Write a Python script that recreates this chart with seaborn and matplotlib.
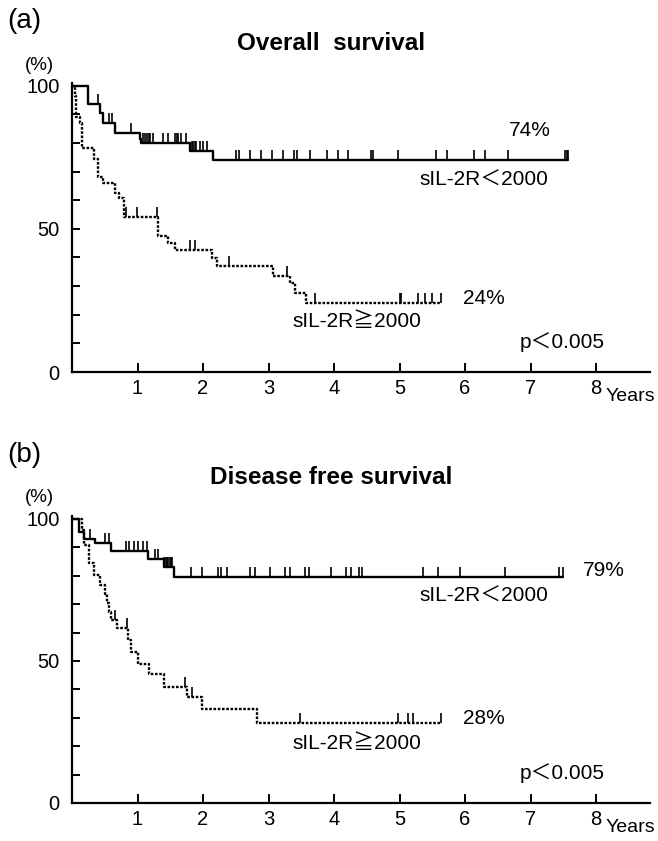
import numpy as np
import pandas as pd
import matplotlib
matplotlib.use("Agg")
import matplotlib.pyplot as plt
import seaborn as sns

# ---------------- DATA ----------------
# (a) Overall survival
os_low_times = [0.25, 0.42, 0.48, 0.65, 1.04, 1.06, 1.80, 2.15]
os_low_surv = [93.7, 90.6, 86.9, 83.4, 81.4, 79.9, 77.2, 74.0]
os_low_cens = [0.40, 0.57, 0.61, 0.90, 1.09, 1.11, 1.14, 1.17, 1.19, 1.24, 1.39, 1.46,
               1.57, 1.60, 1.62, 1.66, 1.74, 1.83, 1.85, 1.88, 1.90, 1.95, 2.00, 2.06,
               2.51, 2.55, 2.72, 2.88, 3.05, 3.22, 3.39, 3.43, 3.63, 3.89, 4.06, 4.22,
               4.56, 4.59, 4.98, 5.56, 5.72, 6.14, 6.31, 6.65, 7.53, 7.55, 7.58]

os_high_times = [0.04, 0.06, 0.12, 0.15, 0.33, 0.39, 0.48, 0.65, 0.72, 0.80, 1.32, 1.47,
                 1.57, 2.13, 2.21, 3.07, 3.33, 3.40, 3.57]
os_high_surv = [96.5, 89.2, 86.9, 78.1, 74.3, 68.2, 66.1, 62.6, 60.7, 54.2, 47.5, 44.9,
                42.6, 39.7, 37.0, 33.5, 31.0, 27.7, 24.2]
os_high_cens = [0.82, 0.99, 1.30, 1.80, 1.88, 2.40, 3.29, 3.71, 5.01, 5.03, 5.29, 5.39,
                5.49, 5.64]

# (b) Disease free survival
dfs_low_times = [0.10, 0.18, 0.35, 0.59, 1.16, 1.40, 1.55]
dfs_low_surv = [95.5, 92.8, 91.4, 88.7, 86.0, 83.2, 79.7]
dfs_low_cens = [0.27, 0.51, 0.57, 0.82, 0.87, 0.94, 1.01, 1.09, 1.14, 1.27, 1.32, 1.41,
                1.43, 1.45, 1.47, 1.49, 1.51, 1.53, 1.82, 1.99, 2.23, 2.28, 2.37, 2.72,
                2.80, 3.02, 3.25, 3.33, 3.56, 3.62, 3.96, 4.19, 4.26, 4.38, 4.43, 5.36,
                5.59, 5.92, 6.61, 7.43, 7.50]

dfs_high_times = [0.15, 0.19, 0.26, 0.33, 0.42, 0.50, 0.53, 0.56, 0.59, 0.68, 0.85, 0.90,
                  1.00, 1.17, 1.41, 1.76, 1.99, 2.82]
dfs_high_surv = [96.0, 90.8, 84.4, 80.3, 76.8, 73.5, 70.5, 67.4, 64.4, 61.5, 57.4, 53.3,
                 48.9, 45.3, 41.0, 37.4, 33.0, 28.3]
dfs_high_cens = [0.66, 0.84, 1.73, 1.83, 3.48, 4.98, 5.13, 5.21, 5.64]

x_ticks = [1, 2, 3, 4, 5, 6, 7, 8]
y_ticks_major = [0, 50, 100]
y_ticks_minor = [10, 20, 30, 40, 60, 70, 80, 90]

panel_letters = ["(a)", "(b)"]
panel_titles = ["Overall  survival", "Disease free survival"]
final_labels = [("74%", "24%"), ("79%", "28%")]
group_labels = ["sIL-2R\uff1c2000", "sIL-2R\u22672000"]
p_label = "p\uff1c0.005"

# ---------------- STYLE ----------------
sns.set_style("ticks")
plt.rcParams["font.family"] = ["Liberation Sans", "Noto Sans CJK JP", "DejaVu Sans"]
plt.rcParams["axes.linewidth"] = 1.6
for k in ["text.color", "axes.labelcolor", "xtick.color", "ytick.color", "axes.edgecolor"]:
    plt.rcParams[k] = "black"

W, H = 658, 841
fig = plt.figure(figsize=(W / 100, H / 100), dpi=100)


def ax_rect(left, right, top, bottom):
    return [left / W, 1 - bottom / H, (right - left) / W, (bottom - top) / H]


def ftext(x, y, s, **kw):
    fig.text(x / W, 1 - y / H, s, color="black", **kw)


XMAX = 8.82
YMAX = 101

panels = [
    dict(rect=ax_rect(72, 72 + XMAX * 65.5, 372 - YMAX * 2.863, 372),
         low=(os_low_times, os_low_surv, os_low_cens),
         high=(os_high_times, os_high_surv, os_high_cens)),
    dict(rect=ax_rect(72, 72 + XMAX * 65.5, 803 - YMAX * 2.84, 803),
         low=(dfs_low_times, dfs_low_surv, dfs_low_cens),
         high=(dfs_high_times, dfs_high_surv, dfs_high_cens)),
]


def km_curve(ax, times, surv, cens, ls):
    times = np.asarray(times)
    surv = np.asarray(surv)
    end = max(max(cens), times[-1])
    xs = np.concatenate([[0.0], times, [end]])
    ys = np.concatenate([[100.0], surv, [surv[-1]]])
    df = pd.DataFrame({"t": xs, "s": ys})
    sns.lineplot(data=df, x="t", y="s", drawstyle="steps-post", estimator=None,
                 sort=False, color="black", lw=1.7, linestyle=ls, ax=ax, legend=False)
    cens = np.asarray(cens)
    idx = np.searchsorted(times, cens, side="right") - 1
    cy = np.where(idx < 0, 100.0, surv[np.clip(idx, 0, None)])
    ax.plot(cens, cy, linestyle="none", marker=2, markersize=7.5, mew=1.2,
            color="black")


for p in panels:
    ax = fig.add_axes(p["rect"])
    km_curve(ax, *p["low"], ls="-")
    km_curve(ax, *p["high"], ls=(0, (1.1, 0.7)))
    ax.set_xlim(0, XMAX)
    ax.set_ylim(0, YMAX)
    sns.despine(ax=ax)
    ax.set_xticks(x_ticks)
    ax.set_xticklabels([str(v) for v in x_ticks], fontsize=14.5)
    ax.set_yticks(y_ticks_major)
    ax.set_yticklabels([str(v) for v in y_ticks_major], fontsize=14.5)
    ax.set_yticks(y_ticks_minor, minor=True)
    ax.tick_params(axis="x", direction="in", length=6.5, width=1.4, pad=5)
    ax.tick_params(axis="y", which="both", direction="in", length=6, width=1.4, pad=9)
    ax.set_xlabel("")
    ax.set_ylabel("")

# ---------------- TEXT ----------------
# panel a
ftext(24, 21, panel_letters[0], fontsize=20, ha="center", va="center")
ftext(331, 43, panel_titles[0], fontsize=17.5, fontweight="bold", ha="center", va="center")
ftext(39, 66, "(%)", fontsize=13.5, ha="center", va="center")
ftext(530, 131, final_labels[0][0], fontsize=15, ha="center", va="center")
ftext(484, 180, group_labels[0], fontsize=15, ha="center", va="center")
ftext(484, 298, final_labels[0][1], fontsize=15, ha="center", va="center")
ftext(357, 321, group_labels[1], fontsize=15, ha="center", va="center")
ftext(562, 342, p_label, fontsize=15, ha="center", va="center")
ftext(606, 397, "Years", fontsize=14, ha="left", va="center")

# panel b
ftext(24, 455, panel_letters[1], fontsize=20, ha="center", va="center")
ftext(331, 478, panel_titles[1], fontsize=17.5, fontweight="bold", ha="center", va="center")
ftext(39, 497, "(%)", fontsize=13.5, ha="center", va="center")
ftext(604, 571, final_labels[1][0], fontsize=15, ha="center", va="center")
ftext(484, 596, group_labels[0], fontsize=15, ha="center", va="center")
ftext(484, 719, final_labels[1][1], fontsize=15, ha="center", va="center")
ftext(357, 744, group_labels[1], fontsize=15, ha="center", va="center")
ftext(562, 773, p_label, fontsize=15, ha="center", va="center")
ftext(606, 828, "Years", fontsize=14, ha="left", va="center")

fig.savefig("out.png", dpi=100)
